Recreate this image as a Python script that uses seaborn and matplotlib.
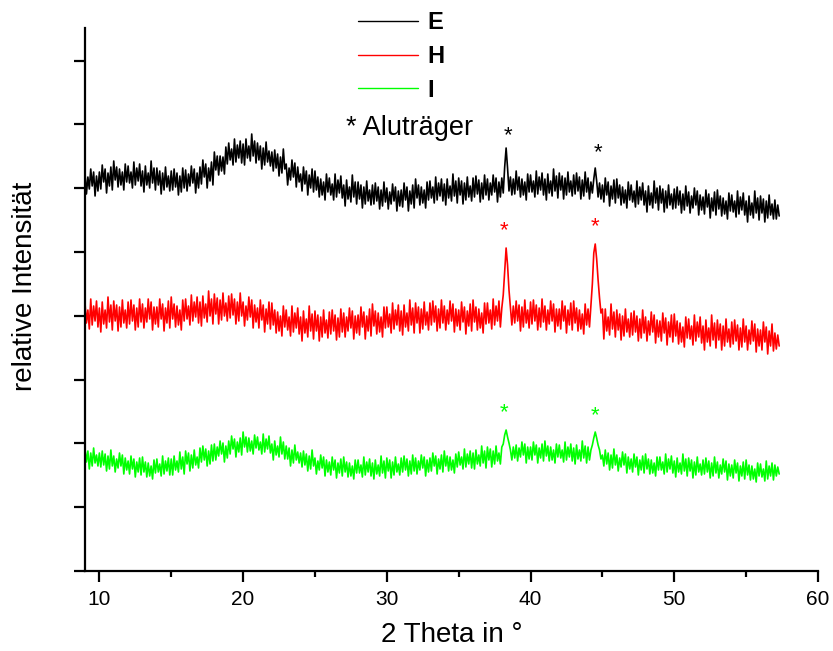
import numpy as np
import pandas as pd
import matplotlib
matplotlib.use("Agg")
import matplotlib.pyplot as plt
import seaborn as sns
from matplotlib.lines import Line2D
from matplotlib.ticker import MultipleLocator

# ---------------- data ----------------
two_theta_start = 9.0
two_theta_step = 0.1

intensity_E = [
    398, 377, 394, 382, 402, 385, 399, 375, 395, 380,
    399, 382, 406, 389, 402, 378, 398, 385, 404, 381,
    410, 391, 404, 384, 402, 386, 399, 381, 407, 389,
    405, 388, 399, 383, 409, 386, 403, 390, 407, 385,
    400, 379, 405, 386, 398, 383, 410, 388, 403, 381,
    403, 386, 400, 377, 398, 381, 404, 384, 395, 380,
    400, 381, 402, 384, 398, 376, 395, 379, 403, 383,
    401, 380, 397, 385, 405, 388, 402, 378, 398, 383,
    404, 387, 411, 394, 407, 383, 403, 390, 409, 386,
    419, 401, 415, 396, 415, 400, 414, 397, 424, 407,
    428, 411, 422, 406, 432, 409, 426, 413, 430, 408,
    427, 406, 432, 413, 425, 410, 437, 415, 430, 408,
    428, 411, 425, 402, 423, 406, 429, 409, 420, 405,
    419, 400, 421, 403, 417, 395, 414, 398, 422, 402,
    407, 386, 403, 391, 411, 394, 408, 384, 404, 389,
    397, 380, 404, 387, 400, 376, 396, 383, 402, 379,
    400, 381, 394, 374, 392, 376, 389, 371, 397, 379,
    393, 376, 387, 371, 397, 374, 391, 378, 395, 373,
    386, 365, 391, 372, 384, 369, 396, 374, 389, 367,
    389, 372, 386, 363, 384, 367, 390, 370, 381, 366,
    386, 367, 388, 370, 384, 362, 381, 365, 389, 369,
    383, 362, 379, 367, 387, 370, 384, 360, 380, 365,
    381, 364, 388, 371, 384, 360, 380, 367, 386, 363,
    392, 373, 386, 366, 384, 368, 381, 363, 389, 371,
    390, 373, 384, 368, 394, 371, 388, 375, 392, 370,
    387, 366, 392, 373, 385, 370, 397, 375, 390, 368,
    393, 376, 390, 367, 388, 371, 394, 374, 385, 370,
    393, 374, 395, 377, 391, 369, 388, 372, 396, 376,
    392, 371, 388, 376, 396, 379, 393, 369, 389, 374,
    393, 378, 404, 423, 403, 380, 394, 376, 392, 377,
    400, 381, 394, 374, 392, 376, 389, 371, 397, 379,
    396, 379, 390, 374, 400, 377, 394, 381, 398, 376,
    392, 371, 397, 378, 390, 375, 402, 380, 395, 373,
    398, 381, 395, 372, 393, 376, 399, 379, 390, 375,
    396, 377, 398, 380, 394, 372, 391, 375, 399, 379,
    393, 372, 389, 378, 392, 403, 390, 374, 388, 372,
    386, 369, 393, 376, 389, 365, 385, 372, 391, 368,
    392, 373, 386, 366, 384, 368, 381, 363, 389, 371,
    386, 369, 380, 364, 390, 367, 384, 371, 388, 366,
    380, 359, 385, 366, 378, 363, 390, 368, 383, 361,
    385, 368, 382, 359, 380, 363, 386, 366, 377, 362,
    382, 363, 384, 366, 380, 358, 377, 361, 385, 365,
    379, 358, 375, 363, 383, 366, 380, 356, 376, 361,
    374, 357, 381, 364, 377, 353, 373, 360, 379, 356,
    381, 362, 375, 355, 373, 357, 370, 352, 378, 360,
    376, 359, 370, 354, 380, 357, 374, 361, 378, 356,
    370, 349, 375, 356, 368, 353, 380, 358, 373, 351,
    375, 358, 372, 349, 370, 353, 376, 356, 367, 352,
    371, 352, 366, 355,
]

intensity_H = [
    268, 248, 261, 242, 272, 246, 265, 250, 270, 244,
    263, 239, 269, 247, 261, 243, 274, 249, 266, 241,
    270, 250, 266, 240, 264, 244, 271, 248, 261, 243,
    269, 247, 271, 250, 266, 241, 263, 244, 272, 249,
    267, 243, 263, 249, 272, 252, 269, 241, 264, 247,
    264, 244, 272, 252, 267, 240, 263, 248, 270, 243,
    274, 252, 267, 244, 265, 246, 261, 241, 271, 250,
    272, 252, 265, 246, 276, 250, 269, 254, 274, 248,
    269, 245, 275, 253, 267, 249, 280, 255, 272, 247,
    277, 257, 273, 247, 271, 251, 278, 255, 268, 250,
    275, 253, 277, 256, 272, 247, 269, 250, 278, 255,
    269, 245, 265, 251, 274, 254, 271, 243, 266, 249,
    263, 243, 271, 251, 266, 239, 262, 247, 269, 242,
    268, 246, 261, 238, 259, 240, 255, 235, 265, 244,
    261, 241, 254, 235, 265, 239, 258, 243, 263, 237,
    254, 230, 260, 238, 252, 234, 265, 240, 257, 232,
    260, 240, 256, 230, 254, 234, 261, 238, 251, 233,
    259, 237, 261, 240, 256, 231, 253, 234, 262, 239,
    258, 234, 254, 240, 263, 243, 260, 232, 255, 238,
    256, 236, 264, 244, 259, 232, 255, 240, 262, 235,
    267, 245, 260, 237, 258, 239, 254, 234, 264, 243,
    264, 244, 257, 238, 268, 242, 261, 246, 266, 240,
    260, 236, 266, 244, 258, 240, 271, 246, 263, 238,
    268, 248, 264, 238, 262, 242, 269, 246, 259, 241,
    268, 246, 270, 249, 265, 240, 262, 243, 271, 248,
    265, 241, 261, 247, 270, 250, 267, 239, 262, 245,
    261, 241, 269, 249, 264, 237, 260, 245, 267, 240,
    271, 249, 264, 241, 262, 243, 258, 238, 268, 247,
    268, 248, 261, 242, 272, 246, 265, 250, 270, 244,
    263, 276, 300, 323, 306, 281, 264, 246, 265, 248,
    270, 250, 266, 240, 264, 244, 271, 248, 261, 243,
    269, 247, 271, 250, 266, 241, 263, 244, 272, 249,
    265, 241, 261, 247, 270, 250, 267, 239, 262, 245,
    262, 242, 270, 250, 265, 238, 261, 246, 268, 241,
    270, 248, 263, 240, 261, 242, 257, 237, 267, 246,
    262, 244, 266, 287, 318, 327, 312, 291, 273, 258,
    262, 232, 262, 240, 254, 236, 267, 242, 259, 234,
    261, 241, 257, 231, 255, 235, 262, 239, 252, 234,
    258, 236, 260, 239, 255, 230, 252, 233, 261, 238,
    254, 230, 250, 236, 259, 239, 256, 228, 251, 234,
    250, 230, 258, 238, 253, 226, 249, 234, 256, 229,
    257, 235, 250, 227, 248, 229, 244, 224, 254, 233,
    252, 232, 245, 226, 256, 230, 249, 234, 254, 228,
    245, 221, 251, 229, 243, 225, 256, 231, 248, 223,
    251, 231, 247, 221, 245, 225, 252, 229, 242, 224,
    249, 227, 251, 230, 246, 221, 243, 224, 252, 229,
    245, 221, 241, 227, 250, 230, 247, 219, 242, 225,
    241, 221, 249, 229, 244, 217, 240, 225, 247, 220,
    238, 222, 236, 225,
]

intensity_I = [
    122, 109, 120, 102, 118, 105, 123, 108, 116, 105,
    118, 104, 120, 106, 117, 100, 115, 102, 121, 105,
    115, 99, 112, 103, 118, 105, 116, 97, 113, 101,
    110, 97, 115, 102, 112, 94, 109, 99, 113, 96,
    114, 99, 109, 94, 108, 95, 105, 92, 111, 98,
    112, 99, 107, 95, 115, 97, 110, 100, 113, 96,
    112, 96, 115, 101, 110, 99, 119, 102, 114, 97,
    120, 107, 118, 100, 116, 103, 121, 106, 114, 103,
    123, 109, 125, 111, 122, 105, 120, 107, 126, 110,
    127, 111, 124, 115, 130, 117, 128, 109, 125, 113,
    130, 117, 135, 122, 132, 114, 129, 119, 133, 116,
    139, 124, 134, 119, 133, 120, 130, 117, 136, 123,
    134, 121, 129, 117, 137, 119, 132, 122, 135, 118,
    127, 111, 130, 116, 125, 114, 134, 117, 129, 112,
    125, 112, 123, 105, 121, 108, 126, 111, 119, 108,
    118, 104, 120, 106, 117, 100, 115, 102, 121, 105,
    113, 97, 110, 101, 116, 103, 114, 95, 111, 99,
    109, 96, 114, 101, 111, 93, 108, 98, 112, 95,
    114, 99, 109, 94, 108, 95, 105, 92, 111, 98,
    111, 98, 106, 94, 114, 96, 109, 99, 112, 95,
    108, 92, 111, 97, 106, 95, 115, 98, 110, 93,
    113, 100, 111, 93, 109, 96, 114, 99, 107, 96,
    113, 99, 115, 101, 112, 95, 110, 97, 116, 100,
    113, 97, 110, 101, 116, 103, 114, 95, 111, 99,
    113, 100, 118, 105, 115, 97, 112, 102, 116, 99,
    120, 105, 115, 100, 114, 101, 111, 98, 117, 104,
    119, 106, 114, 102, 122, 104, 117, 107, 120, 103,
    118, 102, 121, 107, 116, 105, 125, 108, 120, 103,
    124, 111, 122, 104, 120, 107, 125, 110, 118, 107,
    124, 127, 136, 141, 134, 128, 121, 111, 124, 113,
    126, 110, 123, 114, 129, 116, 127, 108, 124, 112,
    124, 111, 129, 116, 126, 108, 123, 113, 127, 110,
    130, 115, 125, 110, 124, 111, 121, 108, 127, 114,
    126, 113, 121, 109, 129, 111, 124, 114, 127, 110,
    123, 107, 126, 112, 121, 110, 130, 113, 125, 108,
    124, 111, 121, 126, 133, 139, 133, 126, 121, 112,
    116, 105, 121, 107, 118, 101, 116, 103, 122, 106,
    116, 100, 113, 104, 119, 106, 117, 98, 114, 102,
    112, 99, 117, 104, 114, 96, 111, 101, 115, 98,
    117, 102, 112, 97, 111, 98, 108, 95, 114, 101,
    114, 101, 109, 97, 117, 99, 112, 102, 115, 98,
    110, 94, 113, 99, 108, 97, 117, 100, 112, 95,
    113, 100, 111, 93, 109, 96, 114, 99, 107, 96,
    111, 97, 113, 99, 110, 93, 108, 95, 114, 98,
    109, 93, 106, 97, 112, 99, 110, 91, 107, 95,
    106, 93, 111, 98, 108, 90, 105, 95, 109, 92,
    111, 96, 106, 91, 105, 92, 102, 89, 108, 95,
    107, 94, 102, 90, 110, 92, 105, 95, 108, 91,
    106, 95, 104, 97,
]

sample_names = ["E", "H", "I"]
sample_colors = ["#000000", "#ff0000", "#00ff00"]
marker_angles = [38.4, 44.7, 38.15, 44.5, 38.15, 44.5]
marker_heights = [435, 418, 340, 344, 158, 155]
marker_samples = ["E", "E", "H", "H", "I", "I"]
x_ticks = [10, 20, 30, 40, 50, 60]

# ---------------- build table ----------------
series = {"E": intensity_E, "H": intensity_H, "I": intensity_I}
frames = []
for name in sample_names:
    vals = series[name]
    tt = np.round(two_theta_start + two_theta_step * np.arange(len(vals)), 2)
    frames.append(pd.DataFrame({"two_theta": tt, "intensity": vals, "sample": name}))
df = pd.concat(frames, ignore_index=True)

# ---------------- figure ----------------
sns.set_theme(style="ticks")
plt.rcParams["font.family"] = ["Liberation Sans", "DejaVu Sans"]
plt.rcParams["text.color"] = "black"
plt.rcParams["axes.labelcolor"] = "black"

W, H = 833, 651
fig = plt.figure(figsize=(W / 100, H / 100), dpi=100)
ax = fig.add_axes([85 / W, (H - 571) / H, (818 - 85) / W, (571 - 28) / H])

palette = dict(zip(sample_names, sample_colors))
sns.lineplot(data=df, x="two_theta", y="intensity", hue="sample",
             hue_order=sample_names, palette=palette, estimator=None,
             sort=False, linewidth=1.2, legend=False, ax=ax)

ax.set_xlim(9, 60)
ax.set_ylim(0, 543)
ax.set_xticks(x_ticks)
ax.xaxis.set_minor_locator(MultipleLocator(5))
ax.set_yticks(np.arange(0, 513, 63.8))
ax.set_yticklabels([])
for s in ["top", "right"]:
    ax.spines[s].set_visible(False)
for s in ["left", "bottom"]:
    ax.spines[s].set_linewidth(1.6)
    ax.spines[s].set_color("black")
ax.tick_params(axis="both", which="major", direction="out", length=8, width=1.6,
               labelsize=15, colors="black")
ax.tick_params(axis="x", which="minor", direction="out", length=4, width=1.6,
               colors="black")
ax.tick_params(axis="x", pad=6)
ax.set_xlabel("2 Theta in °", fontsize=20, color="black")
ax.set_ylabel("relative Intensität", fontsize=20, color="black")
ax.xaxis.set_label_coords(0.5, (571 - 622) / 543)
ax.yaxis.set_label_coords((38 - 85) / 733, (571 - 286) / 543)

# asterisk markers for the Al substrate reflections
for xa, ya, sname in zip(marker_angles, marker_heights, marker_samples):
    ax.text(xa, ya, "*", color=palette[sname], ha="center", va="center",
            fontsize=16)

# legend
handles = [Line2D([0], [0], color=c, lw=1.0) for c in sample_colors]
leg = ax.legend(handles, sample_names, loc="upper left",
                bbox_to_anchor=(348.6 / W, 1 - 1.5 / H), bbox_transform=fig.transFigure,
                frameon=False, borderaxespad=0, handlelength=2.54, handletextpad=0.38,
                labelspacing=0.46, prop={"weight": "bold", "size": 17})

fig.text(346 / W, 1 - 128 / H, "* Aluträger", fontsize=19.5, va="center", ha="left",
         color="black")

fig.savefig("out.png", dpi=100)
